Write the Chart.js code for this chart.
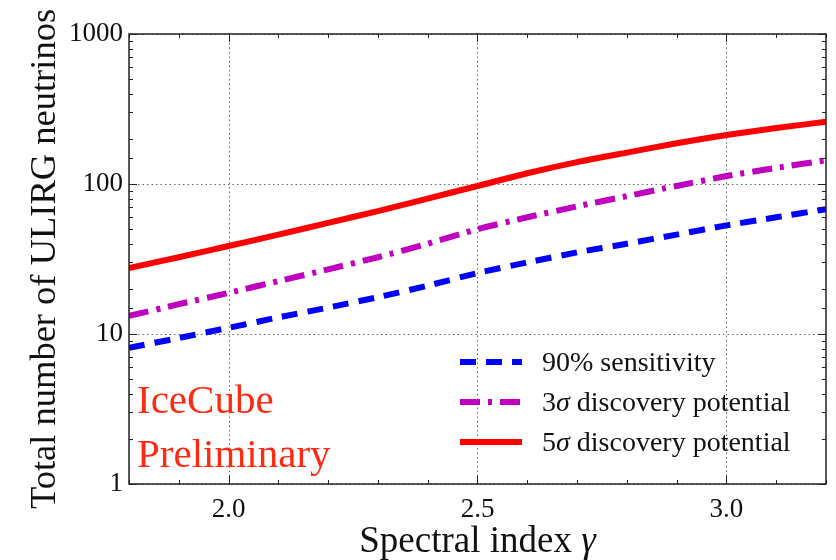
<!DOCTYPE html>
<html>
<head>
<meta charset="utf-8">
<script src="https://cdn.jsdelivr.net/npm/chart.js"></script>
<style>
  body { margin: 0; background: #fff; }
  canvas { display: block; }
</style>
</head>
<body>
<canvas id="c" width="836" height="560"></canvas>
<script>
// Data
const gamma  = [1.8, 1.9, 2.0, 2.1, 2.2, 2.3, 2.4, 2.5, 2.6, 2.7, 2.8, 2.9, 3.0, 3.1, 3.2]
const sens90 = [8.1, 9.4, 11.0, 12.9, 15.0, 17.6, 21, 25.5, 30, 35, 40, 46, 53, 60, 68]
const disc3  = [13.2, 15.8, 18.8, 22.5, 27, 32.5, 40, 50, 60, 71, 83, 97, 113, 128, 144]
const disc5  = [27.5, 32.5, 38.6, 46, 55, 66, 80, 97, 118, 140, 162, 187, 212, 236, 260]
const seriesLabels = ['90% sensitivity', '3σ discovery potential', '5σ discovery potential']
const xTickLabels = ['2.0', '2.5', '3.0']
const yTickLabels = ['1', '10', '100', '1000']

const SERIF = '"Liberation Serif", "DejaVu Serif", serif'

const toPoints = (ys) => ys.map((y, i) => ({ x: gamma[i], y }))

// draw text where greek letters are set in italic
function drawMixed(ctx, text, x, y, size, color, align) {
  const parts = text.split(/([σγ])/).filter(s => s.length)
  const fontFor = (s) => (/[σγ]/.test(s) ? 'italic ' : '') + size + 'px ' + SERIF
  let total = 0
  parts.forEach(p => { ctx.font = fontFor(p); total += ctx.measureText(p).width })
  let cx = align === 'center' ? x - total / 2 : x
  ctx.fillStyle = color
  ctx.textAlign = 'left'
  parts.forEach(p => {
    ctx.font = fontFor(p)
    ctx.fillText(p, cx, y)
    cx += ctx.measureText(p).width
  })
}

const isMajorX = (v) => xTickLabels.includes(Number(v).toFixed(1))
const isMajorY = (v) => yTickLabels.includes(String(v))

const framePlugin = {
  id: 'frame',
  beforeDatasetsDraw(chart) {
    const { ctx, chartArea: a, scales: { x, y } } = chart
    ctx.save()
    ctx.strokeStyle = '#666'
    ctx.lineWidth = 1
    ctx.setLineDash([1.5, 3])
    ctx.beginPath()
    x.ticks.forEach(t => {
      if (!isMajorX(t.value)) return
      const px = Math.round(x.getPixelForValue(t.value)) + 0.5
      ctx.moveTo(px, a.top); ctx.lineTo(px, a.bottom)
    })
    y.ticks.forEach(t => {
      if (!isMajorY(t.value)) return
      const py = Math.round(y.getPixelForValue(t.value)) + 0.5
      ctx.moveTo(a.left, py); ctx.lineTo(a.right, py)
    })
    ctx.stroke()
    ctx.restore()
  },
  afterDatasetsDraw(chart) {
    const { ctx, chartArea: a, scales: { x, y } } = chart
    ctx.save()
    ctx.strokeStyle = '#222'
    ctx.lineWidth = 1.5
    ctx.setLineDash([])
    ctx.strokeRect(a.left, a.top, a.right - a.left, a.bottom - a.top)

    // inward ticks on all four sides
    ctx.lineWidth = 1
    ctx.beginPath()
    x.ticks.forEach(t => {
      const px = Math.round(x.getPixelForValue(t.value)) + 0.5
      const len = isMajorX(t.value) ? 8 : 4
      ctx.moveTo(px, a.bottom); ctx.lineTo(px, a.bottom - len)
      ctx.moveTo(px, a.top); ctx.lineTo(px, a.top + len)
    })
    y.ticks.forEach(t => {
      const py = Math.round(y.getPixelForValue(t.value)) + 0.5
      const len = isMajorY(t.value) ? 8 : 4
      ctx.moveTo(a.left, py); ctx.lineTo(a.left + len, py)
      ctx.moveTo(a.right, py); ctx.lineTo(a.right - len, py)
    })
    ctx.stroke()
    ctx.restore()
  },
  afterDraw(chart) {
    const { ctx, chartArea: a } = chart
    ctx.save()
    ctx.textBaseline = 'alphabetic'

    // legend
    const rows = [362, 402, 442]
    chart.data.datasets.forEach((ds, i) => {
      const ly = rows[i]
      ctx.strokeStyle = ds.borderColor
      ctx.lineWidth = ds.borderWidth
      ctx.setLineDash(ds.borderDash || [])
      ctx.beginPath()
      ctx.moveTo(460, ly); ctx.lineTo(522, ly)
      ctx.stroke()
      drawMixed(ctx, ds.label, 542, ly + 9, 28, '#111', 'left')
    })
    ctx.setLineDash([])

    // IceCube Preliminary
    ctx.fillStyle = '#ff2a12'
    ctx.font = '41px ' + SERIF
    ctx.textAlign = 'left'
    ctx.fillText('IceCube', 137, 413)
    ctx.fillText('Preliminary', 137, 467)

    // axis titles
    drawMixed(ctx, 'Spectral index γ', (a.left + a.right) / 2, 552, 37, '#111', 'center')
    ctx.translate(55, (a.top + a.bottom) / 2)
    ctx.rotate(-Math.PI / 2)
    drawMixed(ctx, 'Total number of ULIRG neutrinos', 0, 0, 36.5, '#111', 'center')
    ctx.restore()
  }
}

const chart = new Chart(document.getElementById('c'), {
  type: 'line',
  data: {
    datasets: [
      {
        label: seriesLabels[0],
        data: toPoints(sens90),
        borderColor: '#0000ff',
        borderWidth: 6,
        borderDash: [16, 10],
        pointRadius: 0,
        tension: 0.2
      },
      {
        label: seriesLabels[1],
        data: toPoints(disc3),
        borderColor: '#bf00bf',
        borderWidth: 6,
        borderDash: [20, 8, 4, 8],
        pointRadius: 0,
        tension: 0.2
      },
      {
        label: seriesLabels[2],
        data: toPoints(disc5),
        borderColor: '#ff0000',
        borderWidth: 6,
        pointRadius: 0,
        tension: 0.2
      }
    ]
  },
  options: {
    responsive: false,
    animation: false,
    clip: 0,
    layout: { padding: { left: 0, top: 34, right: 9, bottom: 0 } },
    plugins: {
      legend: { display: false },
      tooltip: { enabled: false }
    },
    scales: {
      x: {
        type: 'linear',
        min: 1.8,
        max: 3.2,
        grid: { display: false, drawTicks: false },
        border: { display: false },
        afterFit: (s) => { s.height = 76 },
        ticks: {
          stepSize: 0.1,
          autoSkip: false,
          maxRotation: 0,
          padding: 10,
          color: '#111',
          font: { family: SERIF, size: 27 },
          callback: (v) => isMajorX(v) ? Number(v).toFixed(1) : ''
        }
      },
      y: {
        type: 'logarithmic',
        min: 1,
        max: 1000,
        grid: { display: false, drawTicks: false },
        border: { display: false },
        afterFit: (s) => { s.width = 129 },
        ticks: {
          autoSkip: false,
          padding: 6,
          color: '#111',
          font: { family: SERIF, size: 27 },
          callback: (v) => isMajorY(v) ? String(v) : ''
        }
      }
    }
  },
  plugins: [framePlugin]
})
</script>
</body>
</html>
